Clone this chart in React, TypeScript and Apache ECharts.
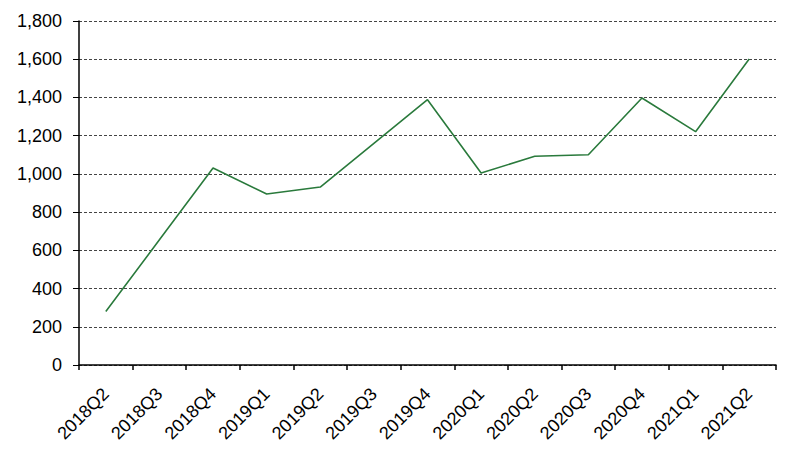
import React, { useEffect, useRef } from "react";
import * as echarts from "echarts";

const categories = [
  "2018Q2", "2018Q3", "2018Q4", "2019Q1", "2019Q2", "2019Q3", "2019Q4",
  "2020Q1", "2020Q2", "2020Q3", "2020Q4", "2021Q1", "2021Q2",
];
const values = [280, 655, 1031, 895, 931, 1160, 1388, 1005, 1092, 1100, 1397, 1221, 1601];

export default function App() {
  const ref = useRef<HTMLDivElement>(null);
  useEffect(() => {
    if (!ref.current) return;
    const chart = echarts.init(ref.current, null, { renderer: "svg" });
    chart.setOption({
      animation: false,
      backgroundColor: "#ffffff",
      grid: { left: 79, top: 21, right: 24, bottom: 92, containLabel: false },
      xAxis: {
        type: "category",
        data: categories,
        boundaryGap: true,
        axisLine: { show: true, lineStyle: { color: "#000", width: 1.5 } },
        axisTick: { show: true, length: 5, lineStyle: { color: "#000", width: 1.5 } },
        axisLabel: {
          rotate: 45,
          margin: 26,
          color: "#000",
          fontSize: 18,
          fontFamily: "Liberation Sans, Arial, sans-serif",
          interval: 0,
        },
        splitLine: { show: false },
      },
      yAxis: {
        type: "value",
        min: 0,
        max: 1800,
        interval: 200,
        axisLine: { show: true, lineStyle: { color: "#000", width: 1.5 } },
        axisTick: { show: true, length: 6, lineStyle: { color: "#000", width: 1 } },
        axisLabel: {
          margin: 17,
          color: "#000",
          fontSize: 18,
          fontFamily: "Liberation Sans, Arial, sans-serif",
          formatter: (v: number) => v.toLocaleString("en-US"),
        },
        splitLine: {
          show: true,
          lineStyle: { color: "#444", type: [3, 2], width: 1 },
        },
      },
      series: [
        {
          type: "line",
          data: values,
          symbol: "none",
          lineStyle: { color: "#2a7a3c", width: 1.6 },
        },
      ],
    });
    return () => chart.dispose();
  }, []);
  return (
    <div
      ref={ref}
      style={{ position: "fixed", left: 0, top: 0, width: 800, height: 457 }}
    />
  );
}
